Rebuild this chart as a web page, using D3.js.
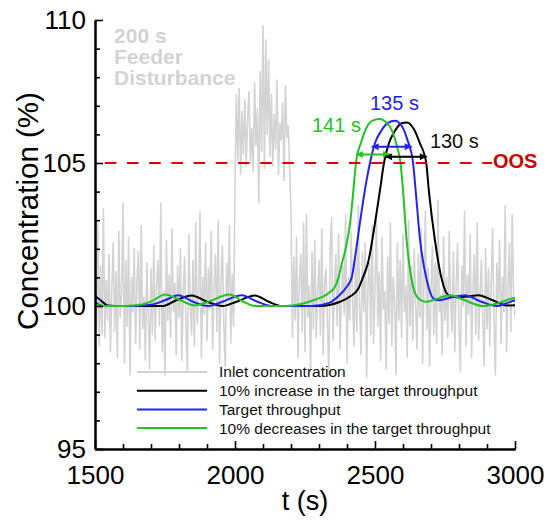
<!DOCTYPE html>
<html>
<head>
<meta charset="utf-8">
<script src="https://cdn.jsdelivr.net/npm/d3@7"></script>
<style>
  html, body { margin: 0; padding: 0; background: #fff; }
  svg { display: block; font-family: "Liberation Sans", Arial, Helvetica, sans-serif; }
</style>
</head>
<body>
<svg id="chart" width="550" height="523"></svg>
<script>
// ---- axis ticks ----
const xTicks = [1500, 2000, 2500, 3000];
const yTicks = [95, 100, 105, 110];
const xMinorTicks = [1600, 1700, 1800, 1900, 2100, 2200, 2300, 2400, 2600, 2700, 2800, 2900];
const yMinorTicks = [96, 97, 98, 99, 101, 102, 103, 104, 106, 107, 108, 109];

// ---- inlet concentration (%), sampled every 5 s from 1500 s ----
const inletStart = 1500;
const inletStep = 5;
const inletValues = [
  100.8, 99.2, 102.9, 98.6, 101.4, 99.0, 103.4, 98.9, 100.9, 99.5,
  101.8, 98.4, 100.6, 102.2, 99.1, 101.2, 98.2, 102.6, 99.6, 100.4,
  103.6, 98.0, 101.6, 99.3, 102.4, 97.6, 101.0, 99.8, 102.0, 98.7,
  100.9, 101.9, 98.5, 102.8, 99.2, 100.3, 98.1, 101.5, 99.7, 97.8,
  101.3, 99.0, 102.1, 98.8, 100.7, 101.6, 99.3, 103.6, 98.4, 100.5,
  97.6, 102.3, 99.5, 101.1, 98.9, 102.7, 99.8, 100.8, 98.3, 101.4,
  99.6, 102.0, 98.1, 100.4, 101.7, 99.2, 97.7, 102.5, 100.1, 99.0,
  101.6, 98.6, 102.9, 99.4, 100.2, 103.3, 98.2, 101.0, 99.7, 102.2,
  98.8, 101.3, 99.9, 102.6, 98.5, 100.6, 101.8, 99.1, 103.0, 98.0,
  100.9, 102.1, 99.4, 97.9, 101.5, 100.2, 102.8, 98.7, 101.1, 99.3,
  104.2, 107.4, 105.1, 107.6, 104.6, 106.8, 105.3, 107.2, 104.9, 106.5,
  107.5, 105.0, 106.2, 104.7, 107.8, 105.6, 106.9, 103.6, 108.2, 105.4,
  109.8, 104.8, 109.3, 106.0, 108.6, 105.2, 107.4, 104.9, 106.7, 105.5,
  107.9, 104.6, 106.4, 105.8, 107.1, 104.4, 107.7, 105.9, 106.3, 104.8,
  103.4, 98.9, 101.7, 99.5, 102.4, 98.2, 100.9, 101.8, 99.1, 102.9,
  98.4, 103.2, 99.6, 100.7, 97.7, 101.9, 99.2, 102.3, 98.9, 100.5,
  101.6, 99.0, 102.7, 98.3, 100.9, 101.3, 99.4, 97.6, 102.1, 103.1,
  98.8, 100.6, 101.8, 99.3, 102.5, 98.5, 100.2, 101.4, 99.7, 103.2,
  98.0, 101.0, 99.5, 102.6, 100.3, 98.6, 101.7, 99.1, 103.5, 100.0,
  98.3, 101.9, 99.8, 102.2, 97.5, 100.8, 101.5, 99.0, 102.8, 98.7,
  100.6, 103.0, 99.3, 101.2, 98.1, 102.4, 99.9, 100.5, 97.8, 101.7,
  99.4, 102.9, 98.6, 101.0, 100.2, 97.6, 102.2, 99.5, 101.6, 98.9,
  102.5, 99.8, 100.7, 98.2, 103.0, 99.3, 101.4, 98.8, 102.0, 100.1,
  98.5, 101.8, 99.6, 102.7, 98.0, 100.9, 103.3, 99.2, 101.3, 97.9,
  100.6, 102.1, 99.0, 101.5, 98.7, 103.7, 99.8, 100.4, 98.3, 102.4,
  99.5, 101.0, 98.9, 102.6, 100.2, 99.1, 101.9, 98.4, 100.8, 102.2,
  99.3, 97.7, 101.4, 100.0, 103.3, 98.6, 101.1, 99.7, 102.5, 98.2,
  100.7, 101.8, 99.0, 102.9, 98.8, 100.4, 101.6, 99.5, 97.9, 102.0,
  99.2, 101.3, 98.6, 100.8, 102.7, 99.4, 97.6, 101.5, 100.1, 102.3,
  98.7, 101.0, 99.8, 103.5, 98.4, 100.6, 102.2, 99.1, 103.2, 100.3,
  99.6
];

// ---- outlet concentration (%) for three throughputs: [t (s), value] ----
const increaseSeries = [
  [1500, 100.35], [1520, 100.2], [1546, 100.02], [1600, 100.0], [1740, 100.0],
  [1790, 100.2], [1845, 100.37], [1900, 100.15], [1955, 100.0], [2005, 100.15],
  [2071, 100.37], [2120, 100.15], [2167, 100.0], [2220, 100.0], [2300, 100.0],
  [2375, 100.15], [2411, 100.33], [2440, 100.6], [2457, 101.0], [2475, 101.5],
  [2500, 102.9], [2518, 104.06], [2532, 105.0], [2550, 105.7], [2570, 106.1],
  [2593, 106.38], [2614, 106.42], [2638, 106.2], [2660, 105.7], [2683, 105.0],
  [2692, 104.06], [2714, 102.3], [2738, 100.95], [2762, 100.38], [2797, 100.3],
  [2830, 100.33], [2869, 100.38], [2920, 100.2], [2970, 100.02], [3000, 100.03]
];
const targetSeries = [
  [1500, 100.15], [1512, 100.06], [1530, 100.0], [1640, 100.0], [1700, 100.04],
  [1750, 100.2], [1797, 100.38], [1850, 100.15], [1904, 100.0], [1955, 100.15],
  [2024, 100.38], [2080, 100.15], [2131, 100.0], [2200, 100.0], [2274, 100.0],
  [2339, 100.12], [2368, 100.33], [2399, 100.67], [2417, 101.0], [2429, 101.72],
  [2446, 102.9], [2464, 104.06], [2482, 105.0], [2500, 105.7], [2522, 106.12],
  [2546, 106.4], [2571, 106.48], [2595, 106.3], [2616, 105.8], [2636, 105.0],
  [2645, 104.06], [2661, 102.3], [2685, 100.9], [2708, 100.27], [2726, 100.2],
  [2770, 100.3], [2821, 100.38], [2880, 100.15], [2935, 100.0], [2970, 100.1],
  [3000, 100.2]
];
const decreaseSeries = [
  [1500, 100.07], [1520, 100.02], [1540, 100.0], [1610, 100.0], [1660, 100.04],
  [1705, 100.18], [1750, 100.4], [1805, 100.2], [1857, 100.02], [1910, 100.17],
  [1980, 100.4], [2030, 100.15], [2071, 100.0], [2180, 100.0], [2232, 100.06],
  [2280, 100.2], [2330, 100.42], [2357, 100.67], [2370, 101.0], [2382, 101.5],
  [2395, 102.0], [2411, 102.9], [2423, 104.06], [2432, 105.0], [2450, 105.72],
  [2472, 106.28], [2495, 106.5], [2518, 106.54], [2540, 106.42], [2560, 106.15],
  [2578, 105.6], [2591, 105.0], [2600, 104.06], [2613, 102.3], [2631, 100.9],
  [2649, 100.33], [2665, 100.2], [2685, 100.15], [2720, 100.25], [2768, 100.38],
  [2820, 100.2], [2886, 100.0], [2940, 100.1], [2993, 100.27], [3000, 100.28]
];

// ---- annotations ----
const oosLevel = 105;
const oosSpan = [1535, 2918];
const spanArrows = [
  { from: 2432, to: 2554, level: 105.3,  color: "#22c322" },
  { from: 2488, to: 2631, level: 105.57, color: "#2323f0" },
  { from: 2536, to: 2685, level: 105.22, color: "#000000" }
];
const spanLabels = [
  { text: "141 s", t: 2275, v: 106.08, color: "#22c322" },
  { text: "135 s", t: 2482, v: 106.85, color: "#2323f0" },
  { text: "130 s", t: 2696, v: 105.52, color: "#111111" }
];
const disturbanceLines = ["200 s", "Feeder", "Disturbance"];

const legendItems = [
  { label: "Inlet concentration", color: "#d3d3d3" },
  { label: "10% increase in the target throughput", color: "#000000" },
  { label: "Target throughput", color: "#2323f0" },
  { label: "10% decreases in the target throughput", color: "#22c322" }
];

// ---- drawing ----
const svg = d3.select("#chart");
const x = d3.scaleLinear().domain([1500, 3000]).range([95, 515]);
const y = d3.scaleLinear().domain([95, 110]).range([449, 20]);

svg.append("defs").append("clipPath").attr("id", "plot-clip")
  .append("rect")
  .attr("x", x(1500)).attr("y", y(110))
  .attr("width", x(3000) - x(1500)).attr("height", y(95) - y(110));

const plot = svg.append("g").attr("clip-path", "url(#plot-clip)");

// inlet concentration trace
const inlet = inletValues.map((v, i) => [inletStart + i * inletStep, v]);
plot.append("path")
  .datum(inlet)
  .attr("fill", "none")
  .attr("stroke", "#d3d3d3")
  .attr("stroke-width", 1.6)
  .attr("stroke-linejoin", "round")
  .attr("d", d3.line().x(d => x(d[0])).y(d => y(d[1])));

// disturbance caption
const caption = svg.append("text")
  .attr("x", x(1568))
  .attr("y", y(109.2))
  .attr("fill", "#d3d3d3")
  .attr("font-weight", "bold")
  .attr("font-size", 21);
caption.selectAll("tspan").data(disturbanceLines).join("tspan")
  .attr("x", x(1568))
  .attr("dy", (d, i) => i === 0 ? 0 : 21)
  .text(d => d);

// out-of-specification limit
svg.append("line")
  .attr("x1", x(oosSpan[0])).attr("x2", x(oosSpan[1]))
  .attr("y1", y(oosLevel)).attr("y2", y(oosLevel))
  .attr("stroke", "#dd0000")
  .attr("stroke-width", 2.2)
  .attr("stroke-dasharray", "11.5,10.7");
svg.append("text")
  .attr("x", x(2921)).attr("y", y(104.82))
  .attr("fill", "#cc0000")
  .attr("font-weight", "bold")
  .attr("font-size", 20)
  .text("OOS");

// outlet curves
const curveLine = d3.line().x(d => x(d[0])).y(d => y(d[1])).curve(d3.curveMonotoneX);
[
  { data: increaseSeries, color: "#000000" },
  { data: targetSeries, color: "#2323f0" },
  { data: decreaseSeries, color: "#22c322" }
].forEach(s => {
  plot.append("path")
    .datum(s.data)
    .attr("fill", "none")
    .attr("stroke", s.color)
    .attr("stroke-width", 2)
    .attr("d", curveLine);
});

// span arrows
const defs = svg.select("defs");
spanArrows.forEach((a, i) => {
  ["start", "end"].forEach(which => {
    defs.append("marker")
      .attr("id", `arrow-${which}-${i}`)
      .attr("viewBox", "0 0 10 10")
      .attr("refX", which === "end" ? 10 : 0)
      .attr("refY", 5)
      .attr("markerWidth", 9)
      .attr("markerHeight", 7)
      .attr("markerUnits", "userSpaceOnUse")
      .attr("orient", "auto")
      .append("path")
      .attr("d", which === "end" ? "M0,0 L10,5 L0,10 Z" : "M10,0 L0,5 L10,10 Z")
      .attr("fill", a.color);
  });
  svg.append("line")
    .attr("x1", x(a.from)).attr("x2", x(a.to))
    .attr("y1", y(a.level)).attr("y2", y(a.level))
    .attr("stroke", a.color)
    .attr("stroke-width", 2)
    .attr("marker-start", `url(#arrow-start-${i})`)
    .attr("marker-end", `url(#arrow-end-${i})`);
});

svg.selectAll(".span-label").data(spanLabels).join("text")
  .attr("class", "span-label")
  .attr("x", d => x(d.t)).attr("y", d => y(d.v))
  .attr("fill", d => d.color)
  .attr("font-size", 20)
  .text(d => d.text);

// axes
const axisFont = 26;
const gx = svg.append("g").attr("transform", `translate(0,${y(95)})`)
  .call(d3.axisBottom(x).tickValues(xTicks).tickSize(-8).tickSizeOuter(0).tickPadding(17).tickFormat(d3.format("d")));
const gxm = svg.append("g").attr("transform", `translate(0,${y(95)})`)
  .call(d3.axisBottom(x).tickValues(xMinorTicks).tickSize(-5).tickSizeOuter(0).tickFormat(""));
const gy = svg.append("g").attr("transform", `translate(${x(1500)},0)`)
  .call(d3.axisLeft(y).tickValues(yTicks).tickSize(-8).tickSizeOuter(0).tickPadding(9).tickFormat(d3.format("d")));
const gym = svg.append("g").attr("transform", `translate(${x(1500)},0)`)
  .call(d3.axisLeft(y).tickValues(yMinorTicks).tickSize(-5).tickSizeOuter(0).tickFormat(""));

[gx, gxm, gy, gym].forEach(g => {
  g.select(".domain").attr("stroke", "#000").attr("stroke-width", 2);
  g.selectAll(".tick line").attr("stroke", "#000").attr("stroke-width", 1.6);
  g.selectAll(".tick text")
    .attr("fill", "#000")
    .attr("font-size", axisFont)
    .attr("font-family", "'Liberation Sans', Arial, sans-serif");
});

svg.append("text")
  .attr("x", (x(1500) + x(3000)) / 2)
  .attr("y", 510)
  .attr("text-anchor", "middle")
  .attr("font-size", 27)
  .text("t (s)");

svg.append("text")
  .attr("transform", "translate(38,211) rotate(-90)")
  .attr("text-anchor", "middle")
  .attr("font-size", 29.5)
  .text("Concentration (%)");

// legend
const legend = svg.append("g");
const rows = legend.selectAll("g").data(legendItems).join("g")
  .attr("transform", (d, i) => `translate(0,${372 + i * 18.7})`);
rows.append("line")
  .attr("x1", 137).attr("x2", 207)
  .attr("stroke", d => d.color)
  .attr("stroke-width", 2);
rows.append("text")
  .attr("x", 219)
  .attr("dy", "0.35em")
  .attr("font-size", 15.5)
  .attr("fill", "#111")
  .text(d => d.label);
</script>
</body>
</html>
